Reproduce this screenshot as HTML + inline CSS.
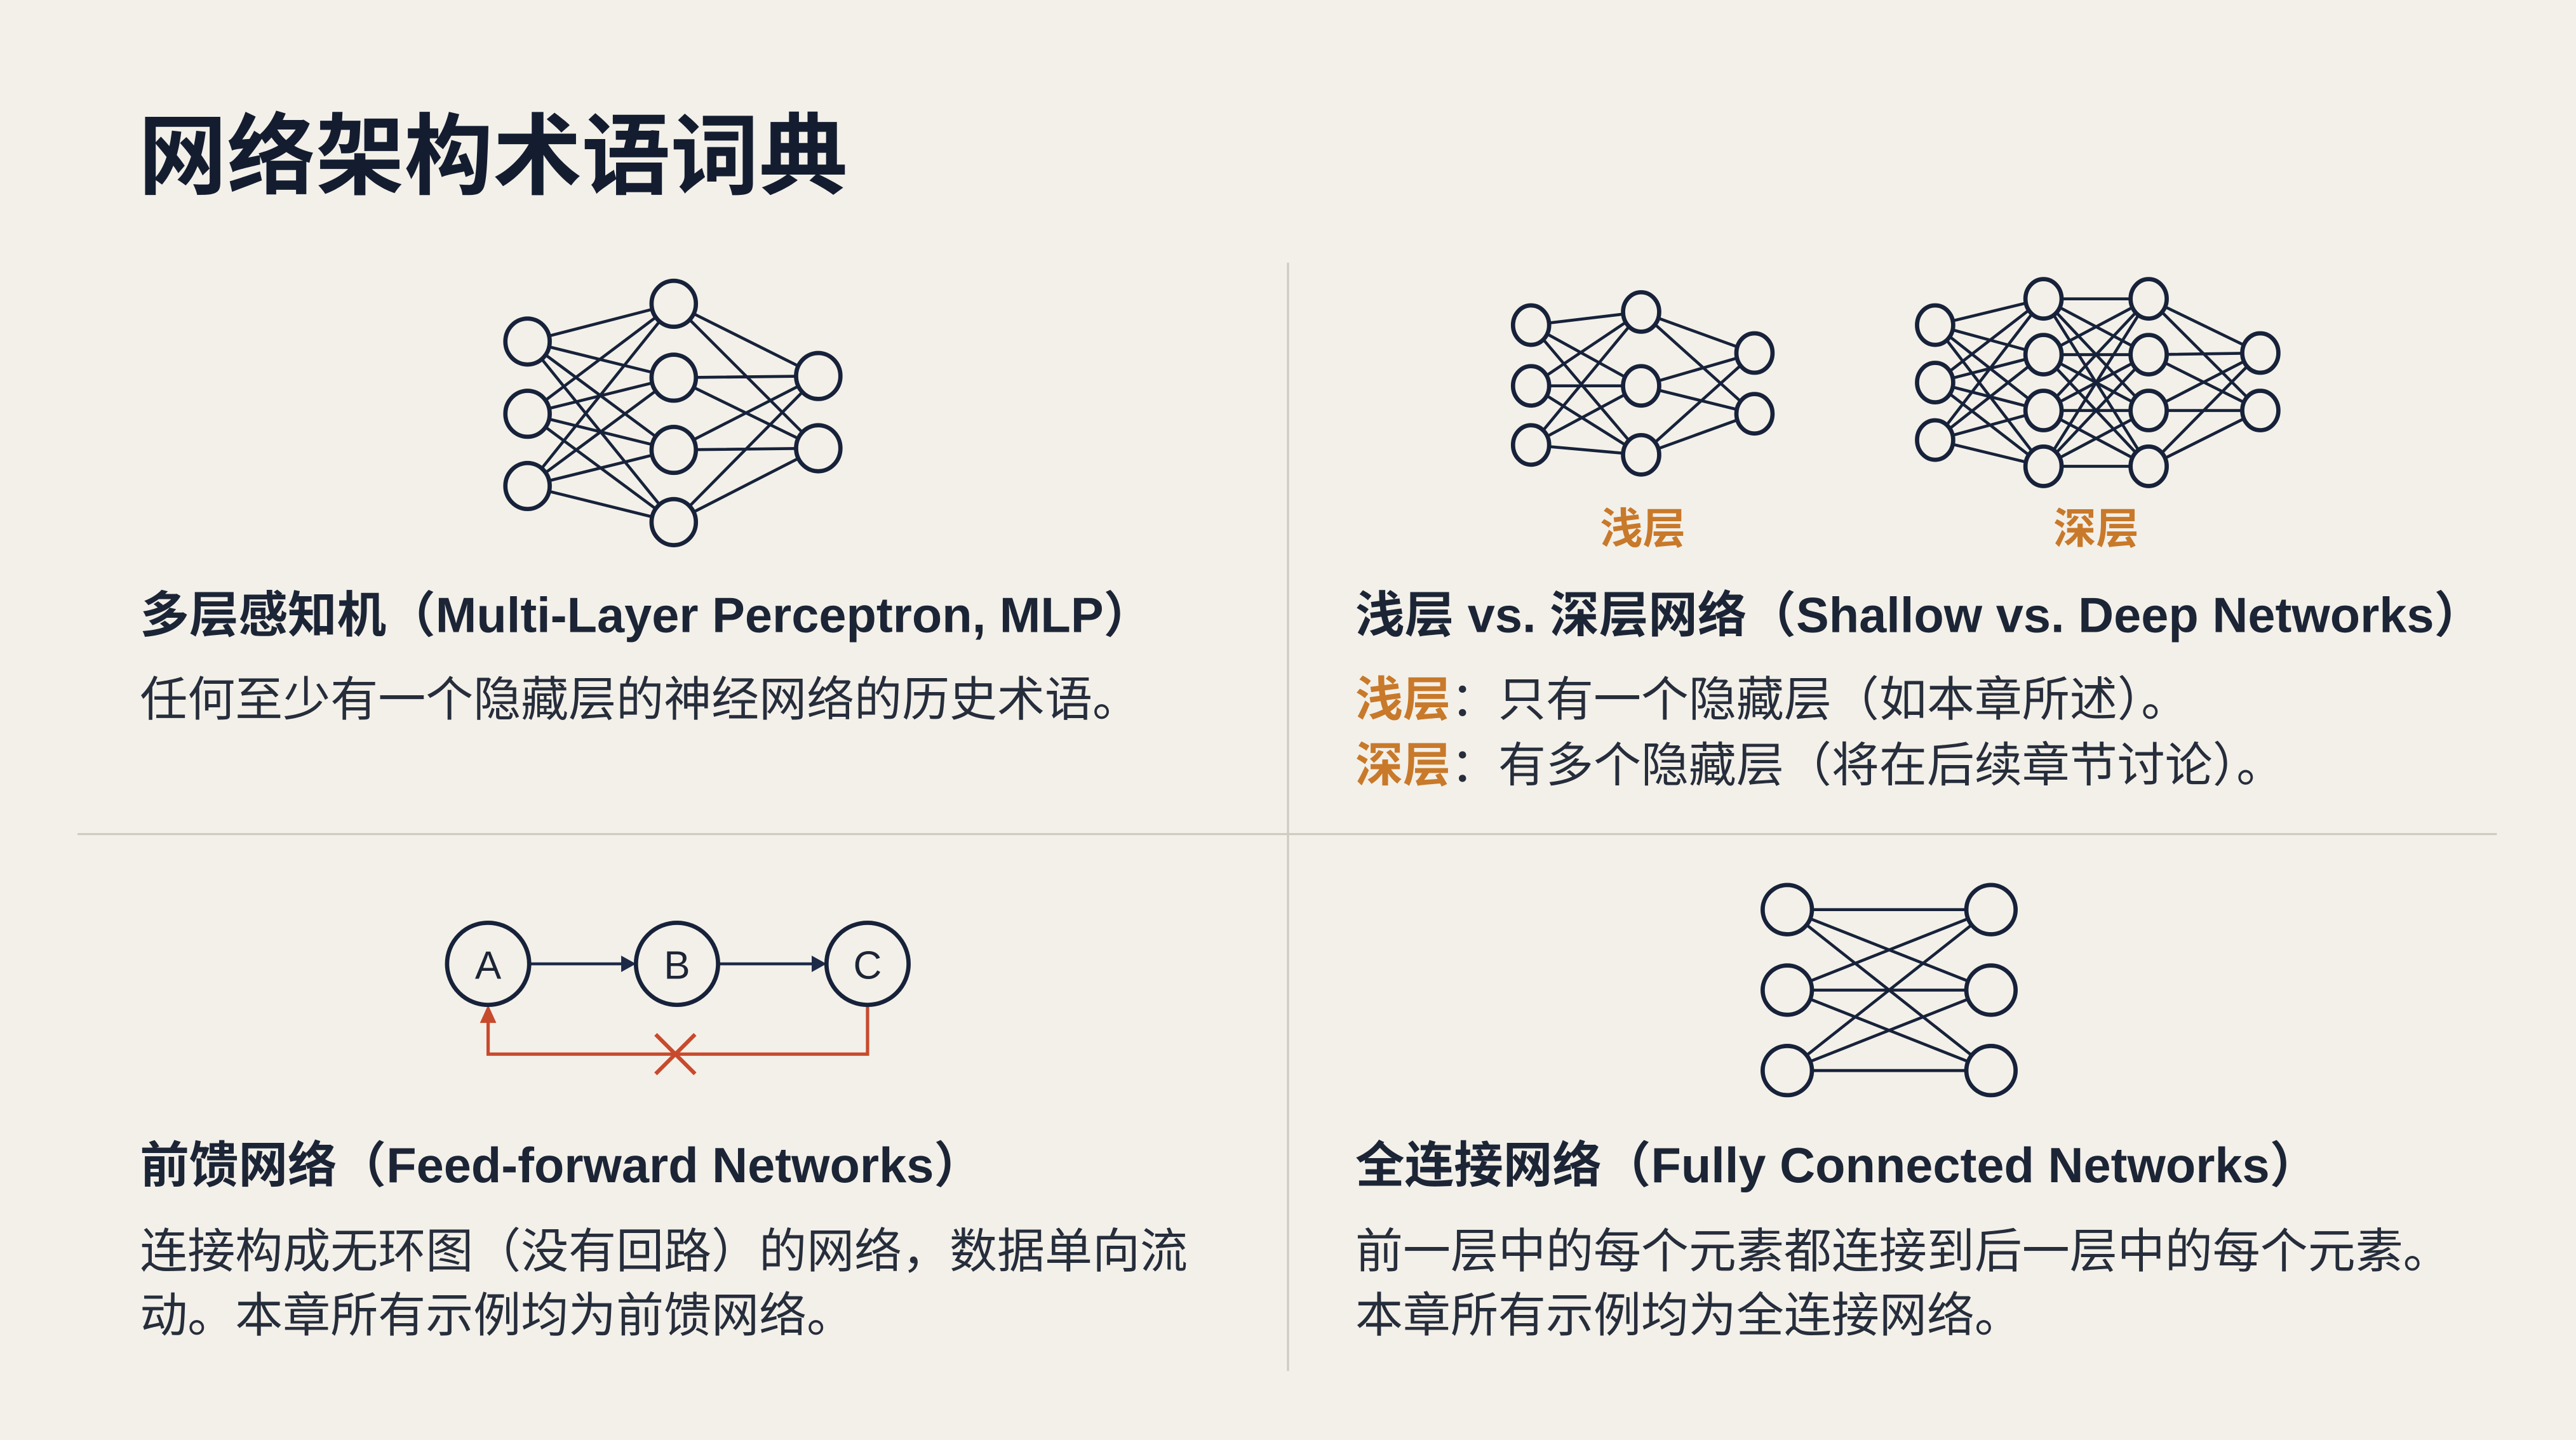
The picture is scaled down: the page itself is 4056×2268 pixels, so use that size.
<!DOCTYPE html>
<html><head><meta charset="utf-8"><style>
html,body{margin:0;padding:0;background:#f3f0e9;}
svg{display:block}
text{font-family:"Liberation Sans","Noto Sans CJK SC",sans-serif;fill:#1c2536}
.h{font-weight:bold;font-size:30px}
.d{font-size:29px;fill:#262d3b}
.o{fill:#c8792a;font-weight:bold}
.n{fill:#f3f0e9;stroke:#17223a;stroke-width:2.6}
.l{stroke:#17223a;stroke-width:1.8;fill:none}
</style></head><body>
<svg width="4056" height="2268" viewBox="0 0 1568 877" xmlns="http://www.w3.org/2000/svg">
<rect width="1568" height="877" fill="#f3f0e9"/>
<text x="84" y="114" style="font-size:54px;font-weight:bold;fill:#141d30">网络架构术语词典</text>
<line x1="784" y1="160" x2="784" y2="835" stroke="#cfcac0" stroke-width="1.2"/>
<line x1="47" y1="508" x2="1520" y2="508" stroke="#cfcac0" stroke-width="1.2"/>

<!-- MLP -->
<path class="l" d="M321 208L410 185M321 208L410 230M321 208L410 274M321 208L410 318M321 252L410 185M321 252L410 230M321 252L410 274M321 252L410 318M321 296L410 185M321 296L410 230M321 296L410 274M321 296L410 318M410 185L498 229M410 185L498 273M410 230L498 229M410 230L498 273M410 274L498 229M410 274L498 273M410 318L498 229M410 318L498 273"/>
<g class="n">
<ellipse cx="321" cy="208" rx="13.5" ry="14"/><ellipse cx="321" cy="252" rx="13.5" ry="14"/><ellipse cx="321" cy="296" rx="13.5" ry="14"/>
<ellipse cx="410" cy="185" rx="13.5" ry="14"/><ellipse cx="410" cy="230" rx="13.5" ry="14"/><ellipse cx="410" cy="274" rx="13.5" ry="14"/><ellipse cx="410" cy="318" rx="13.5" ry="14"/>
<ellipse cx="498" cy="229" rx="13.5" ry="14"/><ellipse cx="498" cy="273" rx="13.5" ry="14"/>
</g>

<!-- Shallow -->
<path class="l" d="M932 198L999 190M932 198L999 235M932 198L999 277M932 235L999 190M932 235L999 235M932 235L999 277M932 271L999 190M932 271L999 235M932 271L999 277M999 190L1068 215M999 190L1068 252M999 235L1068 215M999 235L1068 252M999 277L1068 215M999 277L1068 252"/>
<g class="n">
<ellipse cx="932" cy="198" rx="11" ry="12"/><ellipse cx="932" cy="235" rx="11" ry="12"/><ellipse cx="932" cy="271" rx="11" ry="12"/>
<ellipse cx="999" cy="190" rx="11" ry="12"/><ellipse cx="999" cy="235" rx="11" ry="12"/><ellipse cx="999" cy="277" rx="11" ry="12"/>
<ellipse cx="1068" cy="215" rx="11" ry="12"/><ellipse cx="1068" cy="252" rx="11" ry="12"/>
</g>

<!-- Deep -->
<path class="l" d="M1178 198L1244 182M1178 198L1244 216M1178 198L1244 250M1178 198L1244 284M1178 233L1244 182M1178 233L1244 216M1178 233L1244 250M1178 233L1244 284M1178 268L1244 182M1178 268L1244 216M1178 268L1244 250M1178 268L1244 284
M1244 182L1308 182M1244 182L1308 216M1244 182L1308 250M1244 182L1308 284M1244 216L1308 182M1244 216L1308 216M1244 216L1308 250M1244 216L1308 284M1244 250L1308 182M1244 250L1308 216M1244 250L1308 250M1244 250L1308 284M1244 284L1308 182M1244 284L1308 216M1244 284L1308 250M1244 284L1308 284
M1308 182L1376 215M1308 182L1376 250M1308 216L1376 215M1308 216L1376 250M1308 250L1376 215M1308 250L1376 250M1308 284L1376 215M1308 284L1376 250"/>
<g class="n">
<ellipse cx="1178" cy="198" rx="11" ry="12"/><ellipse cx="1178" cy="233" rx="11" ry="12"/><ellipse cx="1178" cy="268" rx="11" ry="12"/>
<ellipse cx="1244" cy="182" rx="11" ry="12"/><ellipse cx="1244" cy="216" rx="11" ry="12"/><ellipse cx="1244" cy="250" rx="11" ry="12"/><ellipse cx="1244" cy="284" rx="11" ry="12"/>
<ellipse cx="1308" cy="182" rx="11" ry="12"/><ellipse cx="1308" cy="216" rx="11" ry="12"/><ellipse cx="1308" cy="250" rx="11" ry="12"/><ellipse cx="1308" cy="284" rx="11" ry="12"/>
<ellipse cx="1376" cy="215" rx="11" ry="12"/><ellipse cx="1376" cy="250" rx="11" ry="12"/>
</g>

<!-- FC -->
<path class="l" d="M1088 554L1212 554M1088 554L1212 603M1088 554L1212 652M1088 603L1212 554M1088 603L1212 603M1088 603L1212 652M1088 652L1212 554M1088 652L1212 603M1088 652L1212 652"/>
<g class="n">
<circle cx="1088" cy="554" r="15"/><circle cx="1088" cy="603" r="15"/><circle cx="1088" cy="652" r="15"/>
<circle cx="1212" cy="554" r="15"/><circle cx="1212" cy="603" r="15"/><circle cx="1212" cy="652" r="15"/>
</g>

<!-- feed forward -->
<line x1="322" y1="587" x2="380" y2="587" stroke="#1c2a48" stroke-width="1.8"/>
<polygon points="387,587 378,582 378,592" fill="#1c2a48"/>
<line x1="437" y1="587" x2="496" y2="587" stroke="#1c2a48" stroke-width="1.8"/>
<polygon points="503,587 494,582 494,592" fill="#1c2a48"/>
<polyline points="528,612 528,642 297,642 297,620" fill="none" stroke="#c84a2c" stroke-width="2"/>
<polygon points="297,612 292,623 302,623" fill="#c84a2c"/>
<line x1="399" y1="630" x2="423" y2="654" stroke="#c84a2c" stroke-width="2.4"/>
<line x1="423" y1="630" x2="399" y2="654" stroke="#c84a2c" stroke-width="2.4"/>
<circle cx="297" cy="587" r="25" class="n" stroke-width="2"/>
<circle cx="412" cy="587" r="25" class="n" stroke-width="2"/>
<circle cx="528" cy="587" r="25" class="n" stroke-width="2"/>
<text x="297" y="596" text-anchor="middle" style="font-size:24px">A</text>
<text x="412" y="596" text-anchor="middle" style="font-size:24px">B</text>
<text x="528" y="596" text-anchor="middle" style="font-size:24px">C</text>

<!-- labels -->
<text x="1000" y="331" text-anchor="middle" class="o" style="font-size:26px">浅层</text>
<text x="1276" y="331" text-anchor="middle" class="o" style="font-size:26px">深层</text>
<text x="85" y="385" class="h">多层感知机（Multi-Layer Perceptron, MLP）</text>
<text x="85" y="436" class="d">任何至少有一个隐藏层的神经网络的历史术语。</text>
<text x="825" y="385" class="h">浅层 vs. 深层网络（Shallow vs. Deep Networks）</text>
<text x="825" y="436" class="d"><tspan class="o">浅层</tspan>：只有一个隐藏层（如本章所述）。</text>
<text x="825" y="476" class="d"><tspan class="o">深层</tspan>：有多个隐藏层（将在后续章节讨论）。</text>
<text x="85" y="720" class="h">前馈网络（Feed-forward Networks）</text>
<text x="85" y="772" class="d">连接构成无环图（没有回路）的网络，数据单向流</text>
<text x="85" y="811" class="d">动。本章所有示例均为前馈网络。</text>
<text x="825" y="720" class="h">全连接网络（Fully Connected Networks）</text>
<text x="825" y="772" class="d">前一层中的每个元素都连接到后一层中的每个元素。</text>
<text x="825" y="811" class="d">本章所有示例均为全连接网络。</text>
</svg>
</body></html>
